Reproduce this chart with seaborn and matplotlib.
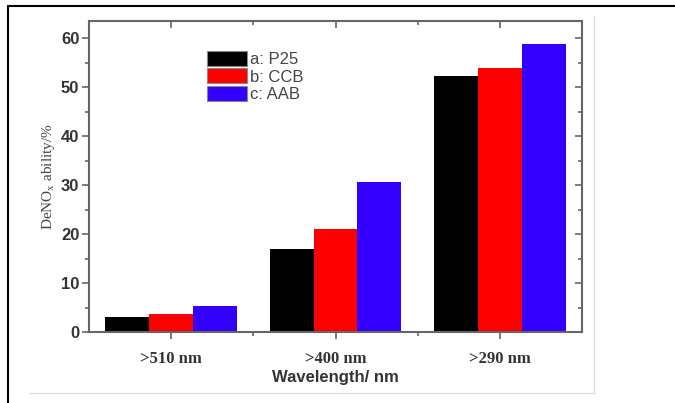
import pandas as pd
import matplotlib
matplotlib.use("Agg")
import matplotlib.pyplot as plt
from matplotlib.lines import Line2D
from matplotlib.ticker import MultipleLocator, FixedLocator
import seaborn as sns

# values
wavelengths = [">510 nm", ">400 nm", ">290 nm"]
samples = ["a: P25", "b: CCB", "c: AAB"]
p25 = [3.1, 17.0, 52.3]
ccb = [3.7, 21.0, 53.9]
aab = [5.4, 30.6, 58.9]
colors = ["#000000", "#ff0000", "#3300ff"]

df = pd.DataFrame({
    "Wavelength": wavelengths * 3,
    "Sample": [s for s in samples for _ in wavelengths],
    "DeNOx": p25 + ccb + aab,
})

sns.set_style("white")
fig = plt.figure(figsize=(6.75, 4.03), dpi=100)
ax = fig.add_axes([89 / 675, 1 - 332 / 403, 493 / 675, 311 / 403])

sns.barplot(data=df, x="Wavelength", y="DeNOx", hue="Sample",
            palette=dict(zip(samples, colors)), saturation=1,
            width=0.8, linewidth=0, ax=ax)

ax.set_xlim(-0.5, 2.5)
ax.set_ylim(0, 63.5)
ax.yaxis.set_major_locator(MultipleLocator(10))
ax.yaxis.set_minor_locator(MultipleLocator(5))
ax.xaxis.set_minor_locator(FixedLocator([0.5, 1.5]))

grey = "#666666"
for s in ax.spines.values():
    s.set_color(grey)
    s.set_linewidth(1.5)
ax.tick_params(which="both", color=grey, width=1.2, direction="out",
               left=True, bottom=True)
ax.tick_params(which="major", length=5)
ax.tick_params(which="minor", length=3)
ax.tick_params(axis="y", labelsize=12, labelcolor="#333333", pad=2)
ax.tick_params(axis="x", labelsize=12, labelcolor="#333333", pad=9)
for lab in ax.get_yticklabels():
    lab.set_fontfamily("Liberation Sans")
    lab.set_fontweight("bold")
for lab in ax.get_xticklabels():
    lab.set_fontfamily("Liberation Serif")
    lab.set_fontweight("bold")

# mirrored inward ticks on top and right
top = ax.secondary_xaxis("top")
top.xaxis.set_major_locator(FixedLocator([0, 1, 2]))
top.xaxis.set_minor_locator(FixedLocator([0.5, 1.5]))
top.tick_params(which="both", direction="in", color=grey, width=1.2, labeltop=False)
top.tick_params(which="major", length=5)
top.tick_params(which="minor", length=3)
top.spines["top"].set_visible(False)
right = ax.secondary_yaxis("right")
right.yaxis.set_major_locator(MultipleLocator(10))
right.yaxis.set_minor_locator(MultipleLocator(5))
right.tick_params(which="both", direction="in", color=grey, width=1.2, labelright=False)
right.tick_params(which="major", length=5)
right.tick_params(which="minor", length=3)
right.spines["right"].set_visible(False)

ax.set_xlabel("Wavelength/ nm", fontsize=12, fontweight="bold",
              family="Liberation Sans", color="#333333", labelpad=2)
ax.set_ylabel("DeNO$_\\mathregular{x}$ ability/%", fontsize=11,
              family="Liberation Serif", color="#444444", labelpad=3)

handles, labels = ax.get_legend_handles_labels()
ax.legend(handles, labels, loc="upper left",
          bbox_to_anchor=(207 / 675, 1 - 51 / 403), bbox_transform=fig.transFigure,
          frameon=False, handlelength=2.4, handleheight=1.0,
          labelspacing=0.08, handletextpad=0.2, borderpad=0, borderaxespad=0,
          prop={"family": "Liberation Sans", "size": 12})
for t in ax.get_legend().get_texts():
    t.set_color("#444444")
for p in ax.get_legend().get_patches():
    p.set_edgecolor("#888888")
    p.set_linewidth(0.8)

# page frame around the picture
fig.add_artist(Line2D([8 / 675, 8 / 675], [0, 1 - 6 / 403], color="black", lw=1.5))
fig.add_artist(Line2D([8 / 675, 1], [1 - 6 / 403, 1 - 6 / 403], color="black", lw=1.5))
fig.add_artist(Line2D([594 / 675, 594 / 675], [1 - 16 / 403, 1 - 393 / 403],
                      color="#dddddd", lw=1))
fig.add_artist(Line2D([29 / 675, 594 / 675], [1 - 393 / 403, 1 - 393 / 403],
                      color="#dddddd", lw=1))

fig.savefig("out.png", dpi=100)
